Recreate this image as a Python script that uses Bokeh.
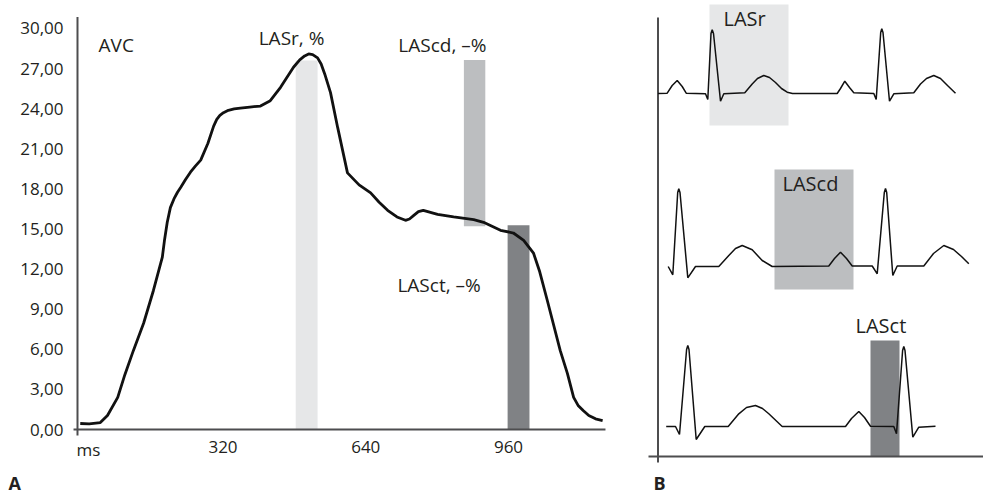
from bokeh.plotting import figure
from bokeh.models import Range1d, FixedTicker, Label
from bokeh.layouts import row
from bokeh.embed import file_html
from bokeh.resources import INLINE

FONT = "Open Sans"

# ---------------- Panel A data: LA strain curve ----------------
time_ms = [0, 20, 45, 61, 84, 100, 119, 142, 164, 184, 189, 195, 202, 210, 218, 225, 236, 247,
           258, 270, 286, 299, 306, 313, 321, 332, 345, 359, 380, 404, 426, 449, 478, 492,
           503, 512, 521, 532, 540, 548, 561, 577, 599, 625, 651, 670, 689, 710, 729, 738,
           747, 758, 769, 785, 801, 837, 882, 904, 942, 971, 994, 1016, 1030, 1047, 1076,
           1092, 1106, 1116, 1128, 1140, 1155, 1171]
strain = [0.45, 0.42, 0.52, 1.05, 2.4, 4.1, 5.9, 7.95, 10.4, 12.9, 14.2, 15.5, 16.6, 17.25,
          17.75, 18.1, 18.7, 19.25, 19.7, 20.15, 21.4, 22.7, 23.2, 23.5, 23.7, 23.88, 23.98,
          24.05, 24.12, 24.2, 24.6, 25.6, 27.1, 27.65, 27.95, 28.1, 28.05, 27.8, 27.35, 26.6,
          25.2, 22.6, 19.2, 18.3, 17.7, 17.0, 16.4, 15.9, 15.65, 15.75, 16.0, 16.3, 16.4,
          16.25, 16.1, 15.9, 15.7, 15.5, 14.9, 14.7, 14.15, 13.2, 11.8, 9.65, 5.9, 4.2, 2.4,
          1.8, 1.4, 1.05, 0.8, 0.67]

y_ticks = [0, 3, 6, 9, 12, 15, 18, 21, 24, 27, 30]
y_tick_labels = ["0,00", "3,00", "6,00", "9,00", "12,00", "15,00", "18,00",
                 "21,00", "24,00", "27,00", "30,00"]
x_ticks = [320, 640, 960]
x_tick_labels = ["320", "640", "960"]

phase_start = [483, 860, 958]
phase_end = [532, 908, 1007]
phase_low = [0, 15.2, 0]
phase_high = [27.6, 27.64, 15.28]

phase_colors = ["#e6e7e8", "#bcbec0", "#808285"]

# ---------------- Panel B data: schematic ECG traces ----------------
ecg1_x = [657.5, 666.7, 671.7, 676.7, 681.7, 685.7, 705, 707.3, 710.5, 711.7, 713, 720, 723.3,
          744.3, 751.7, 757, 763.3, 769, 775, 781, 786.7, 792, 836.7, 840, 844.3, 849,
          853.3, 873.3, 875.7, 880.2, 881.3, 882.5, 889, 893.3, 913.3, 920, 926, 933.3,
          940, 947, 955]
ecg1_y = [93, 92.7, 85, 80, 86, 92.7, 93.3, 99, 33, 29.3, 33, 100.7, 93.3,
          92.3, 83.5, 78, 75, 77, 82, 88, 91.7, 93, 93, 88, 80.7, 87,
          92.3, 93, 99, 32, 28.3, 32, 100.7, 93.3, 92.3, 83.5, 78, 75,
          78, 85, 92.7]
ecg2_x = [667.7, 672.3, 677.2, 678.3, 679.5, 687.3, 695, 718.3, 728.3, 735, 741.7, 751.7,
          761.7, 771.7, 828.3, 834, 840, 846, 851.7, 871.7, 876.7, 883.8, 885, 886.2, 892.3,
          896.7, 923.3, 933, 943.3, 953, 961, 968.3]
ecg2_y = [266, 274.3, 192, 188.3, 192, 277.3, 266, 266, 255, 248, 245, 249.3,
          260, 266, 265.5, 258, 251.7, 258, 265.5, 265.5, 273.3, 192, 188, 192, 275,
          265.5, 265.5, 253, 245, 249, 256, 263.3]
ecg3_x = [665.7, 675, 679, 686.1, 687.3, 688.5, 695.7, 704.3, 727.7, 738.3, 746, 755, 762,
          768.3, 781.7, 845, 851, 858.3, 864, 870, 893.3, 896, 902.1, 903.3, 904.5, 912.3,
          918.3, 935]
ecg3_y = [426, 426, 434, 349, 345, 349, 439, 426, 426, 413.3, 407, 405, 408,
          413.3, 426, 426, 418, 411, 417, 425.7, 426, 433.3, 350, 346, 350, 436.7,
          426.7, 425.7]

box_left = [709, 774, 870]
box_right = [788, 853, 899]
box_top = [4, 169, 340]
box_bottom = [125, 289, 456]

TXT = "#231f20"
axis_col = "#4d4d4f"

# ---------------- Panel A ----------------
X0, X1 = -178.8, 1255.9
Y0, Y1 = -5.012, 32.094
pa = figure(width=640, height=496, output_backend="svg", toolbar_location=None,
            x_range=Range1d(X0, X1), y_range=Range1d(Y0, Y1),
            min_border=0)
pa.title.visible = False
pa.outline_line_color = None
pa.grid.visible = False

for ax in (pa.xaxis, pa.yaxis):
    ax.axis_line_color = None
    ax.major_tick_line_color = None
    ax.minor_tick_line_color = None
    ax.major_tick_out = 0
    ax.major_tick_in = 0
    ax.major_label_text_font = FONT
    ax.major_label_text_font_size = "17px"
    ax.major_label_text_color = TXT

pa.yaxis.fixed_location = -6.2
pa.yaxis.ticker = FixedTicker(ticks=y_ticks)
pa.yaxis.major_label_overrides = dict(zip(y_ticks, y_tick_labels))
pa.yaxis.major_label_standoff = 14
pa.xaxis.fixed_location = 0
pa.xaxis.ticker = FixedTicker(ticks=x_ticks)
pa.xaxis.major_label_overrides = dict(zip(x_ticks, x_tick_labels))
pa.xaxis.major_label_standoff = 11

pa.quad(left=phase_start, right=phase_end, bottom=phase_low, top=phase_high,
        fill_color=phase_colors, line_color=None)

# axis lines (crossing slightly at the origin)
pa.segment(x0=[-15.1, -6.2], y0=[0, -0.45], x1=[1177.4, -6.2], y1=[0, 30.86],
           line_color=axis_col, line_width=2)

pa.line(time_ms, strain, line_color="#111111", line_width=2.8)

a_texts = ["AVC", "LASr, %", "LAScd, –%", "LASct, –%"]
a_tx = [41, 400, 713, 711]
a_ty = [28.76, 29.3, 28.76, 10.8]
for t, x, y in zip(a_texts, a_tx, a_ty):
    pa.add_layout(Label(x=x, y=y, text=t, text_font=FONT, text_font_size="19px",
                        text_baseline="middle", text_align="left", text_color=TXT))
pa.add_layout(Label(x=-8.4, y=-1.5, text="ms", text_font=FONT, text_font_size="17px",
                    text_baseline="middle", text_align="left", text_color=TXT))
pa.add_layout(Label(x=-160.8, y=-4.87, text="A", text_font=FONT, text_font_size="18px",
                    text_font_style="bold", text_baseline="bottom", text_align="left",
                    text_color=TXT))

# ---------------- Panel B ----------------
ox, oy = 657.5, 456.0
pb = figure(width=343, height=496, output_backend="svg", toolbar_location=None,
            x_range=Range1d(640 - ox, 983 - ox), y_range=Range1d(oy - 496, oy - 0),
            x_axis_type=None, y_axis_type=None, min_border=0)
pb.title.visible = False
pb.outline_line_color = None
pb.grid.visible = False

pb.quad(left=[v - ox for v in box_left], right=[v - ox for v in box_right],
        top=[oy - v for v in box_top], bottom=[oy - v for v in box_bottom],
        fill_color=phase_colors, line_color=None)

pb.segment(x0=[648 - ox, 0], y0=[0, oy - 462], x1=[983 - ox, 0], y1=[0, oy - 17],
           line_color=axis_col, line_width=2)

for xs, ys in ((ecg1_x, ecg1_y), (ecg2_x, ecg2_y), (ecg3_x, ecg3_y)):
    pb.line([v - ox for v in xs], [oy - v for v in ys], line_color="#111111", line_width=1.5)

b_texts = ["LASr", "LAScd", "LASct"]
b_tx = [723, 782, 855]
b_ty = [18, 183, 325]
for t, x, y in zip(b_texts, b_tx, b_ty):
    pb.add_layout(Label(x=x - ox, y=oy - y, text=t, text_font=FONT, text_font_size="20px",
                        text_baseline="middle", text_align="left", text_color=TXT))
pb.add_layout(Label(x=653 - ox, y=oy - 494, text="B", text_font=FONT, text_font_size="18px",
                    text_font_style="bold", text_baseline="bottom", text_align="left",
                    text_color=TXT))

layout = row(pa, pb)
open("out.html", "w").write(file_html(layout, INLINE))
